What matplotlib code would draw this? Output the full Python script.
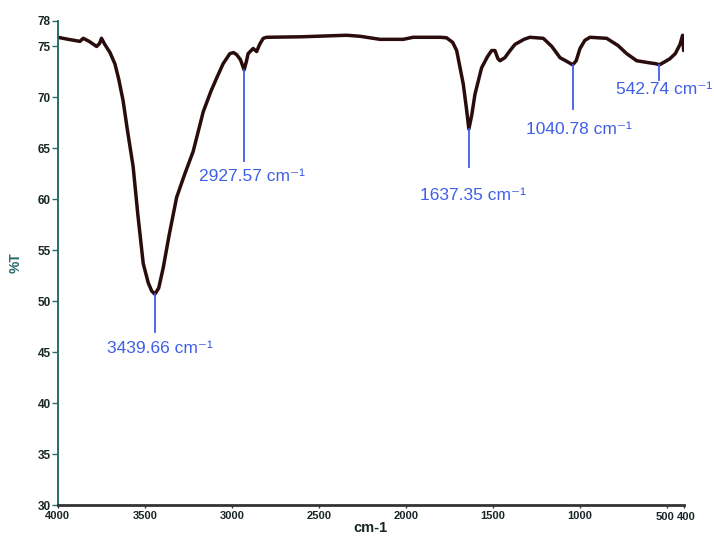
import matplotlib
matplotlib.use("Agg")
import matplotlib.pyplot as plt

plt.rcParams['font.family'] = ['Liberation Sans', 'DejaVu Sans']

# FTIR spectrum (wavenumber in cm-1, transmittance in %)
wavenumber = [4000, 3940, 3873, 3854, 3820, 3777, 3760, 3749, 3730, 3700,
              3672, 3650, 3625, 3600, 3567, 3540, 3509, 3480, 3460, 3442,
              3420, 3394, 3360, 3317, 3270, 3222, 3164, 3120, 3087, 3050,
              3011, 2990, 2972, 2950, 2929, 2915, 2906, 2877, 2857, 2840,
              2819, 2800, 2600, 2340, 2263, 2148, 2014, 1957, 1800, 1765,
              1730, 1707, 1669, 1650, 1637, 1620, 1602, 1564, 1530, 1506,
              1487, 1470, 1458, 1430, 1400, 1372, 1320, 1286, 1209, 1160,
              1113, 1070, 1040, 1020, 998, 970, 941, 845, 780, 730,
              672, 600, 560, 542, 510, 481, 450, 423, 408, 402]
transmittance = [75.9, 75.7, 75.5, 75.8, 75.5, 75.0, 75.3, 75.8, 75.2, 74.4,
                 73.3, 71.8, 69.7, 66.8, 63.2, 58.5, 53.7, 51.8, 51.0, 50.7,
                 51.3, 53.3, 56.5, 60.2, 62.5, 64.7, 68.6, 70.6, 71.9, 73.3,
                 74.3, 74.4, 74.2, 73.7, 72.7, 73.6, 74.3, 74.8, 74.5, 75.2,
                 75.8, 75.9, 75.95, 76.1, 76.0, 75.7, 75.7, 75.9, 75.9, 75.85,
                 75.4, 74.6, 71.3, 68.8, 66.9, 68.3, 70.3, 72.9, 74.0, 74.6,
                 74.6, 73.8, 73.6, 73.9, 74.6, 75.2, 75.7, 75.9, 75.8, 75.0,
                 73.9, 73.5, 73.2, 73.6, 74.8, 75.6, 75.9, 75.8, 75.1, 74.3,
                 73.6, 73.4, 73.3, 73.2, 73.5, 73.8, 74.3, 75.2, 76.1, 74.6]

# labelled peaks
peaks = [3439.66, 2927.57, 1637.35, 1040.78, 542.74]
peak_T = [50.7, 72.7, 66.9, 73.2, 73.2]
line_end = [47.0, 63.8, 63.2, 68.9, 71.7]
label_x = [3414, 2886, 1614, 1004, 512]
label_y = [45.4, 62.2, 60.4, 66.9, 70.8]

yticks = [30, 35, 40, 45, 50, 55, 60, 65, 70, 75, 77.5]
ytick_labels = ['30', '35', '40', '45', '50', '55', '60', '65', '70', '75', '78']
xticks = [4000, 3500, 3000, 2500, 2000, 1500, 1000, 500, 400]
xtick_labels = ['4000', '3500', '3000', '2500', '2000', '1500', '1000', '500', '400']

blue = '#3f5fe6'
teal = '#2b6b6b'
dark = '#1a2626'

fig = plt.figure(figsize=(7.14, 5.38), dpi=100)
ax = fig.add_axes([0.081, 0.061, 0.877, 0.9])

ax.plot(wavenumber, transmittance, color='#2a0c0c', lw=2.5,
        solid_joinstyle='round', solid_capstyle='round')

for p, pt, le, lx, ly in zip(peaks, peak_T, line_end, label_x, label_y):
    ax.plot([p, p], [pt, le], color=blue, lw=1.3)
    ax.text(lx, ly, f'{p:.2f} cm\u207b\u00b9', color=blue, fontsize=12.5,
            ha='center', va='center', clip_on=False)

ax.set_xlim(4000, 400)
ax.set_ylim(30, 77.5)
ax.set_xticks(xticks)
# the last two labels sit very close, so they are placed by hand with a small nudge
ax.set_xticklabels(xtick_labels[:-2] + ['', ''], fontsize=8, fontweight='bold', color=dark)
for t, lab, dx in zip(xticks[-2:], xtick_labels[-2:], [-1.3, 1.3]):
    ax.annotate(lab, xy=(t, 0), xycoords=ax.get_xaxis_transform(),
                xytext=(dx, -4.6), textcoords='offset points',
                ha='center', va='top', fontsize=8, fontweight='bold', color=dark)
ax.set_yticks(yticks)
ax.set_yticklabels(ytick_labels, fontsize=8.5, fontweight='bold', color=dark)

ax.spines['top'].set_visible(False)
ax.spines['right'].set_visible(False)
ax.spines['left'].set_color(teal)
ax.spines['left'].set_linewidth(1.4)
ax.spines['bottom'].set_color('#333333')
ax.spines['bottom'].set_linewidth(2)
ax.tick_params(axis='y', length=4, width=1, color=teal, pad=1)
ax.tick_params(axis='x', length=2, width=1, color='#333333', pad=2)

ax.set_xlabel('cm-1', fontsize=10.5, fontweight='bold', color=dark, labelpad=0)
ax.set_ylabel('%T', fontsize=10, fontweight='bold', color=teal, labelpad=11)

fig.savefig('out.png', dpi=100)
